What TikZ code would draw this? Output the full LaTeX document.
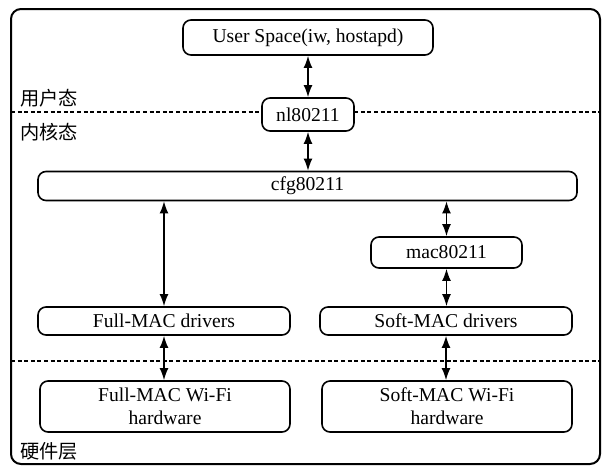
\documentclass[tikz,border=0pt]{standalone}
\usepackage{fontspec}
\setmainfont{Liberation Serif}
\newfontfamily\cjkfont{Noto Sans CJK SC}
\usepackage{tikz}
\usetikzlibrary{arrows.meta, positioning, calc}

\begin{document}
\begin{tikzpicture}[
    x=0.5pt, y=-0.5pt,
    box/.style={
        rectangle,
        rounded corners=4pt,
        draw=black,
        fill=white,
        align=center,
        inner sep=0pt,
        font=\fontsize{9.8}{11.5}\selectfont,
        line width=0.8pt
    },
    layer/.style={
        anchor=west,
        inner sep=0pt,
        font=\cjkfont\fontsize{9.6}{11}\selectfont
    },
    sep/.style={
        dashed,
        dash pattern=on 2pt off 1.3pt,
        line width=0.8pt
    },
    arrow/.style={
        {Latex[length=6pt,width=4.4pt]}-{Latex[length=6pt,width=4.4pt]},
        line width=0.7pt
    }
]
\useasboundingbox (0,0) rectangle (603,466);

% Outer frame
\draw[line width=1pt, rounded corners=5pt] (11,9) rectangle (600,464);

% Layer separators
\coordinate (kernelL) at (11,112);
\coordinate (kernelR) at (600,112);
\coordinate (hwL) at (11,361);
\coordinate (hwR) at (600,361);
\draw[sep] (kernelL) -- (kernelR);
\draw[sep] (hwL) -- (hwR);

% Layer labels
\node[layer] (userlbl) at (20,98) {用户态};
\node[layer] (kernellbl) at (20,132) {内核态};
\node[layer] (hwlbl) at (20,451) {硬件层};

% Nodes
\node[box, minimum width=125pt, minimum height=17.5pt] (user) at (308,37.5) {User Space(iw, hostapd)};

\node[box, minimum width=46pt, minimum height=16.5pt] (nl) at (308,114.5) {nl80211};

\node[box, minimum width=269.5pt, minimum height=14.5pt] (cfg) at (307.5,186) {cfg80211};

\node[box, minimum width=75.5pt, minimum height=15.5pt] (mac) at (446.5,252.5) {mac80211};

% Drivers on same horizontal line
\node[box, minimum width=126pt, minimum height=14pt] (fulldrv) at (164,321) {Full-MAC drivers};

\node[box, minimum width=126pt, minimum height=14pt] (softdrv) at (446,321) {Soft-MAC drivers};

% Hardware
\node[box, minimum width=125pt, minimum height=25.5pt] (fullhw) at (165,406.5) {Full-MAC Wi-Fi\\hardware};

\node[box, minimum width=125pt, minimum height=25.5pt] (softhw) at (447,406.5) {Soft-MAC Wi-Fi\\hardware};

% Arrows
\draw[arrow] (user.south) -- (nl.north);
\draw[arrow] (nl.south) -- (cfg.north -| nl.south);

\draw[arrow] (cfg.south -| fulldrv.north) -- (fulldrv.north);
\draw[arrow] (cfg.south -| mac.north) -- (mac.north);
\draw[arrow] (mac.south) -- (mac.south |- softdrv.north);

\draw[arrow] (fulldrv.south) -- (fulldrv.south |- fullhw.north);
\draw[arrow] (softdrv.south) -- (softdrv.south |- softhw.north);

\end{tikzpicture}
\end{document}
